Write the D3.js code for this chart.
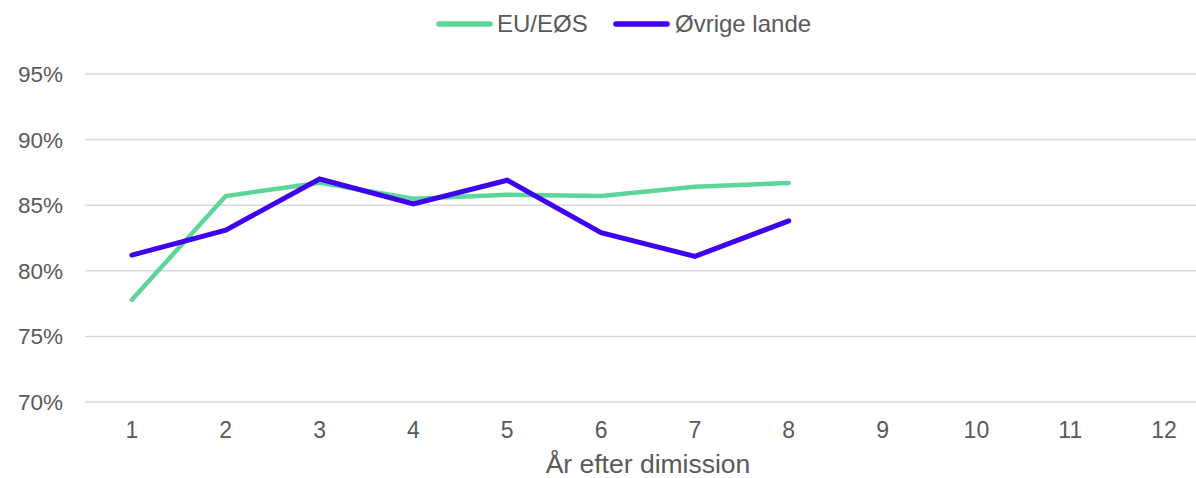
<!DOCTYPE html>
<html lang="en">
<head>
    <meta charset="UTF-8">
    <title>År efter dimission</title>
    <style>
        body { margin: 0; background: #fff; }
        text { font-family: "Liberation Sans", Arial, sans-serif; fill: #595959; }
    </style>
    <script src="https://d3js.org/d3.v7.min.js"></script>
</head>
<body>
    <svg width="1196" height="478"></svg>
    <script>
        const years = ["1", "2", "3", "4", "5", "6", "7", "8", "9", "10", "11", "12"];
        const euValues = [77.8, 85.7, 86.7, 85.5, 85.8, 85.7, 86.4, 86.7];
        const otherValues = [81.2, 83.1, 87.0, 85.1, 86.9, 82.9, 81.1, 83.8];
        const yTicks = [70, 75, 80, 85, 90, 95];
        const seriesNames = ["EU/EØS", "Øvrige lande"];
        const colors = ["#5cd699", "#3d00f0"];

        const svg = d3.select("svg");
        const plotLeft = 85, plotRight = 1211, plotTop = 74, plotBottom = 402;

        const x = d3.scaleBand().domain(years).range([plotLeft, plotRight]);
        const y = d3.scaleLinear().domain([70, 95]).range([plotBottom, plotTop]);

        // gridlines
        svg.selectAll(".grid")
            .data(yTicks)
            .enter()
            .append("line")
            .attr("x1", plotLeft)
            .attr("x2", 1196)
            .attr("y1", d => y(d))
            .attr("y2", d => y(d))
            .style("stroke", "#d9d9d9")
            .style("stroke-width", 1.5);

        // y labels
        svg.selectAll(".ylab")
            .data(yTicks)
            .enter()
            .append("text")
            .attr("x", 63)
            .attr("y", d => y(d) + 8)
            .attr("text-anchor", "end")
            .style("font-size", "22.5px")
            .text(d => d + "%");

        // x labels
        svg.selectAll(".xlab")
            .data(years)
            .enter()
            .append("text")
            .attr("x", d => x(d) + x.bandwidth() / 2)
            .attr("y", 438)
            .attr("text-anchor", "middle")
            .style("font-size", "23px")
            .text(d => d);

        svg.append("text")
            .attr("x", (plotLeft + plotRight) / 2)
            .attr("y", 473)
            .attr("text-anchor", "middle")
            .style("font-size", "26.5px")
            .text("År efter dimission");

        const line = d3.line()
            .x((d, i) => x(years[i]) + x.bandwidth() / 2)
            .y(d => y(d));

        [euValues, otherValues].forEach((vals, i) => {
            svg.append("path")
                .datum(vals)
                .attr("d", line)
                .style("fill", "none")
                .style("stroke", colors[i])
                .style("stroke-width", i === 0 ? 4.5 : 5)
                .style("stroke-linecap", "round")
                .style("stroke-linejoin", "miter");
        });

        // legend
        const legendX = [439, 588];
        const legendText = [497, 675];
        seriesNames.forEach((name, i) => {
            svg.append("line")
                .attr("x1", legendX[i] + (i === 1 ? 28 : 0))
                .attr("x2", legendX[i] + (i === 1 ? 28 : 0) + 51)
                .attr("y1", 24)
                .attr("y2", 24)
                .style("stroke", colors[i])
                .style("stroke-width", 5.5)
                .style("stroke-linecap", "round");
            svg.append("text")
                .attr("x", legendText[i])
                .attr("y", 32)
                .style("font-size", "24px")
                .text(name);
        });
    </script>
</body>
</html>
